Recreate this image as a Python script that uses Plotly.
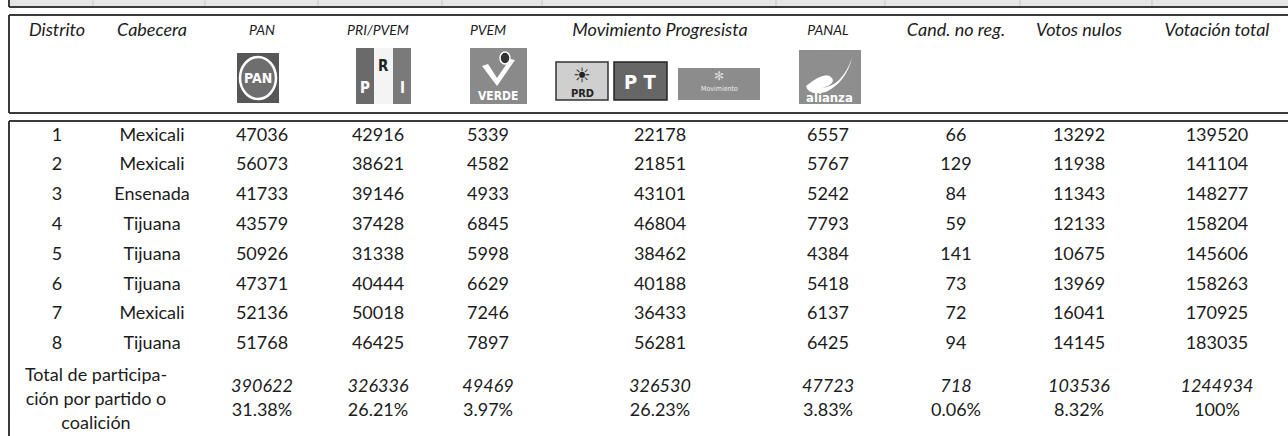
import plotly.graph_objects as go

# ---------------- data ----------------
distritos = ["1", "2", "3", "4", "5", "6", "7", "8"]
cabeceras = ["Mexicali", "Mexicali", "Ensenada", "Tijuana", "Tijuana", "Tijuana", "Mexicali", "Tijuana"]
pan = [47036, 56073, 41733, 43579, 50926, 47371, 52136, 51768]
pri_pvem = [42916, 38621, 39146, 37428, 31338, 40444, 50018, 46425]
pvem = [5339, 4582, 4933, 6845, 5998, 6629, 7246, 7897]
mov_progresista = [22178, 21851, 43101, 46804, 38462, 40188, 36433, 56281]
panal = [6557, 5767, 5242, 7793, 4384, 5418, 6137, 6425]
cand_no_reg = [66, 129, 84, 59, 141, 73, 72, 94]
votos_nulos = [13292, 11938, 11343, 12133, 10675, 13969, 16041, 14145]
votacion_total = [139520, 141104, 148277, 158204, 145606, 158263, 170925, 183035]

totales = [390622, 326336, 49469, 326530, 47723, 718, 103536, 1244934]
porcentajes = ["31.38%", "26.21%", "3.97%", "26.23%", "3.83%", "0.06%", "8.32%", "100%"]

headers = ["Distrito", "Cabecera", "PAN", "PRI/PVEM", "PVEM", "Movimiento Progresista",
           "PANAL", "Cand. no reg.", "Votos nulos", "Votación total"]
small_headers = {"PAN", "PRI/PVEM", "PVEM", "PANAL"}
total_label = ["Total de participa-", "ción por partido o", "coalición"]

# ---------------- layout constants ----------------
W, H = 1288, 436
COL_X = [57, 152, 262, 378, 488, 660, 828, 956, 1079, 1217]
LABEL_X = 96
HEADER_Y = 31
ROW_Y0, ROW_STEP = 136, 29.8
TOTAL_Y, PCT_Y = 387, 411
LABEL_Y = [376, 400, 424]
FONT = "Lato, 'Open Sans', sans-serif"
TXT = "#1c1c1c"
LINE = "#3a3a3a"
FS = 18

row_y = [ROW_Y0 + i * ROW_STEP for i in range(len(distritos))]

fig = go.Figure()

columns = [distritos, cabeceras, pan, pri_pvem, pvem, mov_progresista, panal,
           cand_no_reg, votos_nulos, votacion_total]
for cx, vals in zip(COL_X, columns):
    fig.add_trace(go.Scatter(
        x=[cx] * len(vals), y=row_y, mode="text",
        text=[str(v) for v in vals], textposition="middle center",
        textfont=dict(family=FONT, size=FS, color=TXT),
        hoverinfo="skip", showlegend=False))

# totals row
fig.add_trace(go.Scatter(
    x=COL_X[2:], y=[TOTAL_Y] * len(totales), mode="text",
    text=[str(v) for v in totales], textposition="middle center",
    textfont=dict(family=FONT, size=FS, color=TXT, style="italic"),
    hoverinfo="skip", showlegend=False))
fig.add_trace(go.Scatter(
    x=COL_X[2:], y=[PCT_Y] * len(porcentajes), mode="text",
    text=porcentajes, textposition="middle center",
    textfont=dict(family=FONT, size=FS, color=TXT),
    hoverinfo="skip", showlegend=False))
fig.add_trace(go.Scatter(
    x=[LABEL_X] * 3, y=LABEL_Y, mode="text",
    text=total_label, textposition="middle center",
    textfont=dict(family=FONT, size=FS, color=TXT),
    hoverinfo="skip", showlegend=False))

# headers
for cx, h in zip(COL_X, headers):
    small = h in small_headers
    fig.add_trace(go.Scatter(
        x=[cx], y=[HEADER_Y], mode="text", text=[h], textposition="middle center",
        textfont=dict(family=FONT, size=14 if small else FS, color=TXT, style="italic"),
        hoverinfo="skip", showlegend=False))

shapes = []
def rect(x0, y0, x1, y1, fill, line=None, lw=0):
    shapes.append(dict(type="rect", xref="x", yref="y", x0=x0, y0=y0, x1=x1, y1=y1,
                       fillcolor=fill, line=dict(color=line or fill, width=lw), layer="above"))
def hline(y, x0, x1, color=LINE, w=2):
    shapes.append(dict(type="line", xref="x", yref="y", x0=x0, x1=x1, y0=y, y1=y,
                       line=dict(color=color, width=w)))
def vline(x, y0, y1, color=LINE, w=2):
    shapes.append(dict(type="line", xref="x", yref="y", x0=x, x1=x, y0=y0, y1=y1,
                       line=dict(color=color, width=w)))

# top grey band (title row, cut off)
shapes.append(dict(type="rect", xref="x", yref="y", x0=9, x1=W + 5, y0=-5, y1=7,
                   fillcolor="#e6e6e6", line=dict(width=0), layer="below"))
for sx in [93, 205, 318, 442, 542, 776, 885, 1020, 1152]:
    vline(sx, -2, 7, color="#c4c4c4", w=1)
hline(7, 9, W + 5)
vline(9, -2, 7)
# header box
hline(15, 9, W + 5)
hline(113, 9, W + 5)
vline(9, 15, 113)
# body box
hline(121, 9, W + 5)
vline(9, 121, H + 5)

annotations = []
def label(x, y, text, size, color="white", weight="bold", family="DejaVu Sans Condensed, DejaVu Sans"):
    annotations.append(dict(x=x, y=y, xref="x", yref="y", text=text, showarrow=False,
                            font=dict(family=family, size=size, color=color, weight=weight)))

# ---- logos approximated with shapes ----
# PAN
rect(237, 53, 279, 103, "#575757")
shapes.append(dict(type="circle", xref="x", yref="y", x0=240, x1=276, y0=57, y1=99,
                   fillcolor="#6e6e6e", line=dict(color="white", width=2.5), layer="above"))
label(258, 78, "PAN", 14, color="white")
# PRI
rect(356, 48, 374, 104, "#6a6a6a")
rect(374, 48, 393, 104, "#f4f4f4")
rect(393, 48, 411, 104, "#7a7a7a")
label(365, 88, "P", 15)
label(383, 66, "R", 15, color="#222")
label(402, 88, "I", 15)
# PVEM
rect(470, 48, 527, 104, "#8a8a8a")
shapes.append(dict(type="path", xref="x", yref="y",
                   path="M 482 66 L 497 86 L 515 60 L 510 59 L 497 78 L 488 64 Z",
                   fillcolor="white", line=dict(width=0), layer="above"))
shapes.append(dict(type="circle", xref="x", yref="y", x0=500, x1=510, y0=52, y1=64,
                   fillcolor="#333", line=dict(color="white", width=1.5), layer="above"))
label(498, 96, "VERDE", 12)
# PRD
rect(556, 62, 608, 100, "#cfcfcf", line="#333", lw=1.5)
label(582, 75, "☀", 20, color="#222", weight="normal", family="DejaVu Sans")
label(582, 93, "PRD", 11, color="#222")
# PT
rect(614, 62, 667, 100, "#666666", line="#222", lw=1.5)
label(640, 82, "P T", 20)
# Movimiento Ciudadano
rect(678, 68, 760, 100, "#8c8c8c")
label(719, 76, "✻", 12, color="#dcdcdc", weight="normal", family="DejaVu Sans")
label(719, 89, "Movimiento", 7, color="#eeeeee", weight="normal")
# PANAL / alianza
rect(799, 50, 861, 104, "#8e8e8e")
shapes.append(dict(type="path", xref="x", yref="y",
                   path="M 806 86 Q 826 70 832 78 Q 836 84 822 88 Q 842 86 852 58 Q 846 82 826 92 Q 808 96 806 86 Z",
                   fillcolor="white", line=dict(width=0), layer="above"))
label(829, 97, "alianza", 13)

fig.update_layout(
    width=W, height=H, autosize=False,
    margin=dict(l=0, r=0, t=0, b=0),
    paper_bgcolor="white", plot_bgcolor="white",
    xaxis=dict(range=[0, W], visible=False, fixedrange=True),
    yaxis=dict(range=[H, 0], visible=False, fixedrange=True),
    shapes=shapes, annotations=annotations,
)

fig.write_html("out.html", config={"displayModeBar": False},
               post_script="document.body.style.margin='0';")
